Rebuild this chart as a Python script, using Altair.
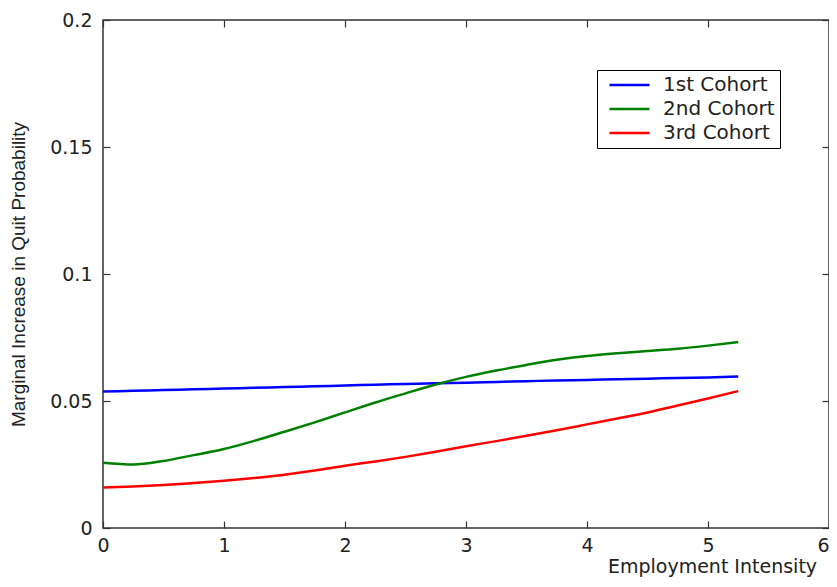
import altair as alt
import pandas as pd

# ---- data ----
x_vals = [0, 0.25, 0.5, 0.75, 1, 1.25, 1.5, 1.75, 2, 2.25, 2.5, 2.75,
          3, 3.25, 3.5, 3.75, 4, 4.25, 4.5, 4.75, 5, 5.25]
cohort1 = [0.0537, 0.0540, 0.0543, 0.0546, 0.0549, 0.0552, 0.0555, 0.0558,
           0.0561, 0.0564, 0.0567, 0.0570, 0.0572, 0.0575, 0.0578, 0.0581,
           0.0583, 0.0586, 0.0588, 0.0591, 0.0593, 0.0596]
cohort2 = [0.0257, 0.0250, 0.0264, 0.0287, 0.0311, 0.0343, 0.0379, 0.0416,
           0.0455, 0.0494, 0.0530, 0.0565, 0.0595, 0.0620, 0.0642, 0.0662,
           0.0677, 0.0688, 0.0697, 0.0706, 0.0718, 0.0732]
cohort3 = [0.0159, 0.0163, 0.0169, 0.0177, 0.0186, 0.0197, 0.0210, 0.0226,
           0.0245, 0.0262, 0.0280, 0.0300, 0.0322, 0.0342, 0.0363, 0.0385,
           0.0408, 0.0431, 0.0455, 0.0482, 0.0510, 0.0539]
series_names = ["1st Cohort", "2nd Cohort", "3rd Cohort"]
series_colors = ["#0000FF", "#008000", "#FF0000"]
x_ticks = [0, 1, 2, 3, 4, 5, 6]
y_ticks = [0, 0.05, 0.1, 0.15, 0.2]

rows = []
for name, ys in zip(series_names, [cohort1, cohort2, cohort3]):
    for xv, yv in zip(x_vals, ys):
        rows.append({"x": xv, "y": yv, "series": name})
df = pd.DataFrame(rows)

FONT = "DejaVu Sans"
YFONT = "Liberation Sans"
INK = "#222222"
AX = "#333333"

xscale = alt.Scale(domain=[0, 6], nice=False, zero=False)
yscale = alt.Scale(domain=[0, 0.2], nice=False)

lines = alt.Chart(df).mark_line(strokeWidth=2.5, interpolate="monotone").encode(
    x=alt.X("x:Q", scale=xscale, axis=alt.Axis(
        orient="bottom", values=x_ticks, format="d", tickSize=7, offset=-7,
        domain=False, grid=False, tickColor=AX, tickWidth=1.2,
        labelPadding=8, labelFont=FONT, labelFontSize=19, labelColor=INK,
        labelFlush=False, labelOverlap=False,
        labelAlign={"condition": {"test": "datum.value == 6", "value": "right"},
                    "value": "center"},
        title="Employment Intensity", titleFont=FONT, titleFontSize=19,
        titleFontWeight="normal", titleColor=INK, titleX=609, titleY=45,
        titleAlign="center", titleBaseline="middle")),
    y=alt.Y("y:Q", scale=yscale, axis=alt.Axis(
        orient="left", values=y_ticks, format="~g", tickSize=7, offset=-7,
        domain=False, grid=False, tickColor=AX, tickWidth=1.2,
        labelPadding=11, labelFont=FONT, labelFontSize=19, labelColor=INK,
        labelFlush=False, labelOverlap=False,
        title="Marginal Increase in Quit Probability", titleFont=YFONT,
        titleFontSize=19, titleFontWeight="normal", titleColor=INK,
        titleX=-92, titleY=254, titleAngle=270, titleAlign="center",
        titleBaseline="middle")),
    color=alt.Color("series:N",
                    scale=alt.Scale(domain=series_names, range=series_colors),
                    legend=alt.Legend(
                        title=None, orient="none", legendX=494, legendY=50,
                        strokeColor="black", fillColor="white", padding=5,
                        symbolType="stroke", symbolSize=1600,
                        symbolStrokeWidth=2.5, symbolOffset=6,
                        labelFont=FONT, labelFontSize=20, labelColor=INK,
                        labelOffset=12, clipHeight=20, rowPadding=4)),
)

frame = alt.Chart(df).mark_line(opacity=0).encode(
    x=alt.X("x:Q", scale=xscale, axis=alt.Axis(
        orient="top", values=x_ticks, labels=False, tickSize=7, offset=-7,
        domain=False, grid=False, tickColor=AX, tickWidth=1.2, title=None)),
    y=alt.Y("y:Q", scale=yscale, axis=alt.Axis(
        orient="right", values=y_ticks, labels=False, tickSize=7, offset=-7,
        domain=False, grid=False, tickColor=AX, tickWidth=1.2, title=None)),
    detail="series:N",
)

chart = (
    alt.layer(lines, frame)
    .resolve_axis(x="independent", y="independent")
    .properties(
        width=726, height=508,
        padding={"left": 95, "top": 12, "right": 0, "bottom": 50},
        autosize=alt.AutoSizeParams(type="none"),
        background="white",
    )
    .configure_view(stroke=AX, strokeWidth=1.5)
)

chart.save("out.html", embed_options={"renderer": "svg", "actions": False})
